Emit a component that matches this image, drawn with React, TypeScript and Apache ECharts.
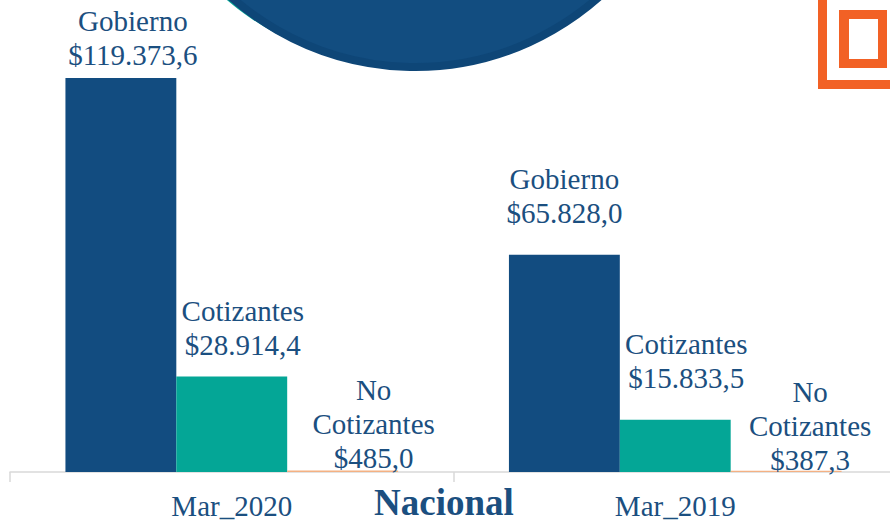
import React, { useEffect, useRef } from "react";
import * as echarts from "echarts";

const categories = ["Mar_2020", "Mar_2019"];
const seriesNames = ["Gobierno", "Cotizantes", "No\nCotizantes"];
const gobierno = [119373.6, 65828.0];
const cotizantes = [28914.4, 15833.5];
const noCotizantes = [485.0, 387.3];
const axisTitle = "Nacional";

// label placement tweaks [dx, dy] per series, per category
const labelOffsets = [
  [[12, -6], [0, -25]],
  [[11, -15], [11, -25]],
  [[31, 5], [24, 6]],
];

const TEXT = "#1B4F80";
const SERIF = "'Liberation Serif', 'Times New Roman', serif";

function fmt(v: number): string {
  const [i, d] = v.toFixed(1).split(".");
  return "$" + i.replace(/\B(?=(\d{3})+(?!\d))/g, ".") + "," + d;
}

export default function App() {
  const ref = useRef<HTMLDivElement>(null);
  useEffect(() => {
    if (!ref.current) return;
    const chart = echarts.init(ref.current, null, { renderer: "svg" });
    const colors = ["#124C80", "#04A696", "#F4B183"];
    const all = [gobierno, cotizantes, noCotizantes];
    chart.setOption({
      animation: false,
      backgroundColor: "#ffffff",
      grid: { left: 10, right: 0, top: 0, bottom: 53, containLabel: false },
      xAxis: {
        type: "category",
        data: categories,
        axisLine: { show: true, lineStyle: { color: "#D9D9D9", width: 1.5 } },
        axisTick: { show: true, length: 10, lineStyle: { color: "#D9D9D9", width: 1.5 } },
        axisLabel: {
          color: TEXT,
          fontFamily: SERIF,
          fontSize: 29,
          margin: 19,
        },
      },
      yAxis: {
        type: "value",
        min: 0,
        max: 143000,
        show: false,
        splitLine: { show: false },
      },
      graphic: [
        {
          type: "circle",
          z: -10,
          shape: { cx: 409, cy: -214, r: 281 },
          style: { fill: "#05A596" },
        },
        {
          type: "circle",
          z: -9,
          shape: { cx: 415, cy: -209, r: 276 },
          style: { fill: "#124D80", stroke: "#0E4677", lineWidth: 8 },
        },
        {
          type: "polygon",
          shape: {
            points: [
              [818, 0],
              [827, 0],
              [827, 80],
              [890, 80],
              [890, 89],
              [818, 89],
            ],
          },
          style: { fill: "#F26125" },
        },
        {
          type: "rect",
          shape: { x: 839, y: 10, width: 48, height: 58 },
          style: { fill: "#F26125" },
        },
        {
          type: "rect",
          shape: { x: 849, y: 19, width: 29, height: 40 },
          style: { fill: "#ffffff" },
        },
        {
          type: "text",
          x: 444,
          y: 502,
          style: {
            text: axisTitle,
            fill: TEXT,
            font: `bold 37px ${SERIF}`,
            textAlign: "center",
            textVerticalAlign: "middle",
          },
        },
      ],
      series: all.map((arr, si) => ({
        name: seriesNames[si],
        type: "bar",
        barGap: "0%",
        barCategoryGap: "25%",
        itemStyle: { color: colors[si] },
        data: arr.map((v, ci) => ({
          value: v,
          label: { offset: labelOffsets[si][ci] },
        })),
        label: {
          show: true,
          position: "top",
          distance: 0,
          color: TEXT,
          fontFamily: SERIF,
          fontSize: 29,
          lineHeight: 34,
          align: "center",
          formatter: (p: any) => p.seriesName + "\n" + fmt(p.value),
        },
      })),
    });
    return () => chart.dispose();
  }, []);
  return (
    <div
      style={{
        position: "absolute",
        left: 0,
        top: 0,
        width: 890,
        height: 525,
        overflow: "hidden",
        background: "#fff",
      }}
    >
      <div ref={ref} style={{ width: 897, height: 525 }} />
    </div>
  );
}
